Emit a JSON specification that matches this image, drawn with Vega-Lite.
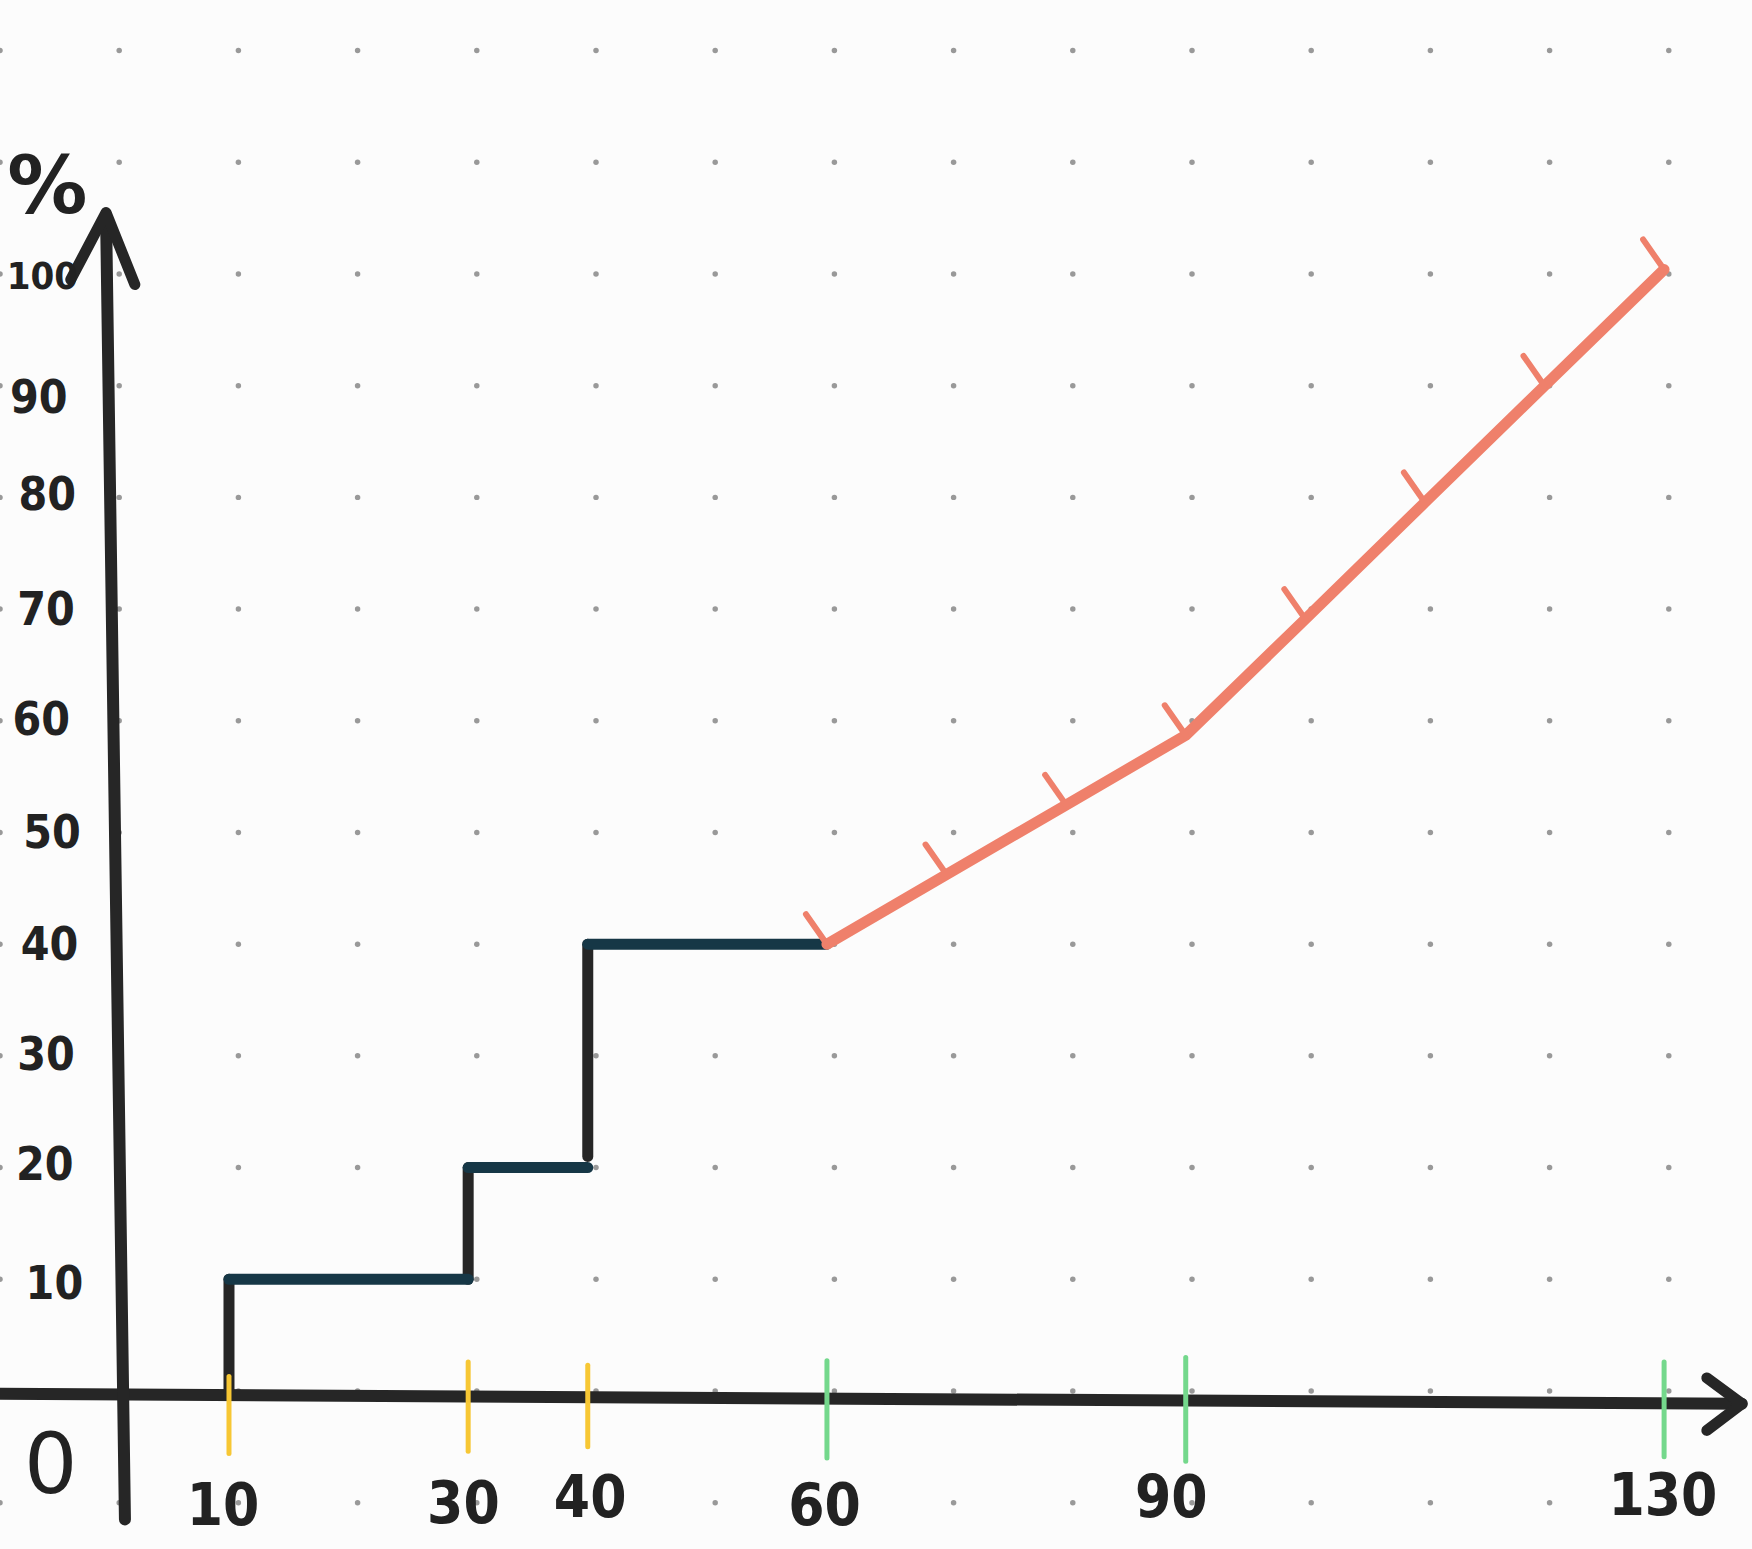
{
  "$schema": "https://vega.github.io/schema/vega-lite/v6.json",
  "width": 1752,
  "height": 1549,
  "autosize": {"type": "none"},
  "padding": 0,
  "background": "#fcfcfc",
  "config": {"view": {"stroke": null}},
  "datasets": {
    "dots": [
      {"v": 120, "c": [0,1,2,3,4,5,6,7,8,9,10,11,12,13,14]},
      {"v": 110, "c": [0,1,2,3,4,5,6,7,8,9,10,11,12,13,14]},
      {"v": 100, "c": [0,1,2,3,4,5,6,7,8,9,10,11,12,13,14]},
      {"v": 90, "c": [0,1,2,3,4,5,6,7,8,9,10,11,12,13,14]},
      {"v": 80, "c": [0,1,2,3,4,5,6,7,8,9,10,11,12,13,14]},
      {"v": 70, "c": [0,1,2,3,4,5,6,7,8,9,10,11,12,13,14]},
      {"v": 60, "c": [0,1,2,3,4,5,6,7,8,9,10,11,12,13,14]},
      {"v": 50, "c": [0,1,2,3,4,5,6,7,8,9,10,11,12,13,14]},
      {"v": 40, "c": [0,1,2,3,4,5,6,7,8,9,10,11,12,13,14]},
      {"v": 30, "c": [0,1,2,3,4,5,6,7,8,9,10,11,12,13,14]},
      {"v": 20, "c": [0,1,2,3,4,5,6,7,8,9,10,11,12,13,14]},
      {"v": 10, "c": [0,1,2,3,4,5,6,7,8,9,10,11,12,13,14]},
      {"v": 0, "c": [0,1,2,3,4,5,6,7,8,9,10,11,12,13,14]},
      {"v": -10, "c": [0,1,2,3,4,5,6,7,8,9,10,11,12,13,14]}
    ],
    "axes": [
      {"x": -9.6, "y": -0.25, "x2": 136.5, "y2": -1.15},
      {"x": 1.3, "y": -11.5, "x2": -0.28, "y2": 105.3}
    ],
    "xarrow": [{"x": 136.5, "y": -1.15}],
    "yarrow": [{"x": -0.28, "y": 105.5}],
    "step": [
      {"x": 10, "y": 0, "x2": 10, "y2": 10, "d": "v"},
      {"x": 30, "y": 10, "x2": 30, "y2": 20, "d": "v"},
      {"x": 40, "y": 21, "x2": 40, "y2": 40, "d": "v"},
      {"x": 10, "y": 10, "x2": 30, "y2": 10, "d": "h"},
      {"x": 30, "y": 20, "x2": 40, "y2": 20, "d": "h"},
      {"x": 40, "y": 40, "x2": 60, "y2": 40, "d": "h"}
    ],
    "linear": [
      {"x": 60, "y": 40},
      {"x": 70, "y": 46.23},
      {"x": 80, "y": 52.47},
      {"x": 90, "y": 58.7},
      {"x": 100, "y": 69.1},
      {"x": 110, "y": 79.55},
      {"x": 120, "y": 89.98},
      {"x": 130, "y": 100.4}
    ],
    "ticks": [
      {"x": 10, "y": 1.3, "y2": -5.6, "g": "step"},
      {"x": 30, "y": 2.6, "y2": -5.4, "g": "step"},
      {"x": 40, "y": 2.3, "y2": -5.0, "g": "step"},
      {"x": 60, "y": 2.7, "y2": -6.0, "g": "linear"},
      {"x": 90, "y": 3.0, "y2": -6.3, "g": "linear"},
      {"x": 130, "y": 2.6, "y2": -5.9, "g": "linear"}
    ],
    "xlabels": [
      {"x": 9.5, "y": -10.5, "t": "10"},
      {"x": 29.6, "y": -10.3, "t": "30"},
      {"x": 40.2, "y": -9.8, "t": "40"},
      {"x": 59.8, "y": -10.5, "t": "60"},
      {"x": 88.8, "y": -9.8, "t": "90"},
      {"x": 129.9, "y": -9.6, "t": "130"}
    ],
    "ylabels": [
      {"x": -4.6, "y": 9.5, "t": "10"},
      {"x": -5.4, "y": 20.1, "t": "20"},
      {"x": -5.3, "y": 30, "t": "30"},
      {"x": -5.0, "y": 39.8, "t": "40"},
      {"x": -4.8, "y": 49.9, "t": "50"},
      {"x": -5.7, "y": 60, "t": "60"},
      {"x": -5.3, "y": 69.8, "t": "70"},
      {"x": -5.2, "y": 80.1, "t": "80"},
      {"x": -5.9, "y": 88.8, "t": "90"}
    ],
    "toplabel": [
      {"x": -5.6, "y": 99.6, "t": "100"}
    ],
    "unit": [{"x": -5.2, "y": 107.6, "t": "%"}],
    "origin": [{"x": -4.9, "y": -6.9, "t": "0"}]
  },
  "resolve": {"scale": {"x": "independent"}},
  "layer": [
    {
      "data": {"name": "dots"},
      "transform": [{"flatten": ["c"]}],
      "mark": {"type": "circle", "size": 30, "color": "#999999", "opacity": 1},
      "encoding": {
        "x": {"field": "c", "type": "quantitative", "scale": {"domain": [0, 14.698], "nice": false, "zero": false}, "axis": null},
        "y": {"field": "v", "type": "quantitative", "scale": {"domain": [-14.15, 124.53], "nice": false, "zero": false}, "axis": null}
      }
    },
    {
      "resolve": {"scale": {"color": "independent"}},
      "layer": [
        {
          "data": {"name": "axes"},
          "mark": {"type": "rule", "color": "#262626", "strokeWidth": 12, "strokeCap": "round"},
          "encoding": {
            "x": {"field": "x", "type": "quantitative", "scale": {"domain": [-9.147, 137.35], "nice": false, "zero": false}, "axis": null},
            "y": {"field": "y", "type": "quantitative", "scale": {"domain": [-14.15, 124.53], "nice": false, "zero": false}, "axis": null},
            "x2": {"field": "x2"},
            "y2": {"field": "y2"}
          }
        },
        {
          "data": {"name": "xarrow"},
          "mark": {"type": "point", "shape": "M-1,-0.74L0,0L-1,0.76", "size": 4900, "filled": false, "color": "#262626", "opacity": 1, "strokeWidth": 11, "strokeCap": "round", "strokeJoin": "round"},
          "encoding": {
            "x": {"field": "x", "type": "quantitative", "scale": {"domain": [-9.147, 137.35], "nice": false, "zero": false}, "axis": null},
            "y": {"field": "y", "type": "quantitative", "scale": {"domain": [-14.15, 124.53], "nice": false, "zero": false}, "axis": null}
          }
        },
        {
          "data": {"name": "yarrow"},
          "mark": {"type": "point", "shape": "M-0.49,0.93L0,0L0.4,1", "size": 20736, "filled": false, "color": "#262626", "opacity": 1, "strokeWidth": 11, "strokeCap": "round", "strokeJoin": "round"},
          "encoding": {
            "x": {"field": "x", "type": "quantitative", "scale": {"domain": [-9.147, 137.35], "nice": false, "zero": false}, "axis": null},
            "y": {"field": "y", "type": "quantitative", "scale": {"domain": [-14.15, 124.53], "nice": false, "zero": false}, "axis": null}
          }
        },
        {
          "data": {"name": "step"},
          "mark": {"type": "rule", "strokeWidth": 11, "strokeCap": "round"},
          "encoding": {
            "x": {"field": "x", "type": "quantitative", "scale": {"domain": [-9.147, 137.35], "nice": false, "zero": false}, "axis": null},
            "y": {"field": "y", "type": "quantitative", "scale": {"domain": [-14.15, 124.53], "nice": false, "zero": false}, "axis": null},
            "x2": {"field": "x2"},
            "y2": {"field": "y2"},
            "color": {"field": "d", "type": "nominal", "scale": {"domain": ["v", "h"], "range": ["#262626", "#163746"]}, "legend": null}
          }
        },
        {
          "data": {"name": "linear"},
          "mark": {"type": "line", "color": "#ef806b", "strokeWidth": 11, "strokeCap": "round", "strokeJoin": "round"},
          "encoding": {
            "x": {"field": "x", "type": "quantitative", "scale": {"domain": [-9.147, 137.35], "nice": false, "zero": false}, "axis": null},
            "y": {"field": "y", "type": "quantitative", "scale": {"domain": [-14.15, 124.53], "nice": false, "zero": false}, "axis": null}
          }
        },
        {
          "data": {"name": "linear"},
          "mark": {"type": "point", "shape": "M0,0L-0.7,-1", "size": 3600, "filled": false, "color": "#ef806b", "opacity": 1, "strokeWidth": 6, "strokeCap": "round"},
          "encoding": {
            "x": {"field": "x", "type": "quantitative", "scale": {"domain": [-9.147, 137.35], "nice": false, "zero": false}, "axis": null},
            "y": {"field": "y", "type": "quantitative", "scale": {"domain": [-14.15, 124.53], "nice": false, "zero": false}, "axis": null}
          }
        },
        {
          "data": {"name": "ticks"},
          "mark": {"type": "rule", "strokeWidth": 5, "strokeCap": "round"},
          "encoding": {
            "x": {"field": "x", "type": "quantitative", "scale": {"domain": [-9.147, 137.35], "nice": false, "zero": false}, "axis": null},
            "y": {"field": "y", "type": "quantitative", "scale": {"domain": [-14.15, 124.53], "nice": false, "zero": false}, "axis": null},
            "y2": {"field": "y2"},
            "color": {"field": "g", "type": "nominal", "scale": {"domain": ["step", "linear"], "range": ["#f7c734", "#74d88c"]}, "legend": null}
          }
        },
        {
          "data": {"name": "xlabels"},
          "mark": {"type": "text", "font": "DejaVu Sans Condensed, DejaVu Sans, sans-serif", "fontSize": 58, "fontWeight": "bold", "color": "#222222", "align": "center", "baseline": "middle"},
          "encoding": {
            "x": {"field": "x", "type": "quantitative", "scale": {"domain": [-9.147, 137.35], "nice": false, "zero": false}, "axis": null},
            "y": {"field": "y", "type": "quantitative", "scale": {"domain": [-14.15, 124.53], "nice": false, "zero": false}, "axis": null},
            "text": {"field": "t"}
          }
        },
        {
          "data": {"name": "ylabels"},
          "mark": {"type": "text", "font": "DejaVu Sans Condensed, DejaVu Sans, sans-serif", "fontSize": 46, "fontWeight": "bold", "color": "#222222", "align": "center", "baseline": "middle"},
          "encoding": {
            "x": {"field": "x", "type": "quantitative", "scale": {"domain": [-9.147, 137.35], "nice": false, "zero": false}, "axis": null},
            "y": {"field": "y", "type": "quantitative", "scale": {"domain": [-14.15, 124.53], "nice": false, "zero": false}, "axis": null},
            "text": {"field": "t"}
          }
        },
        {
          "data": {"name": "toplabel"},
          "mark": {"type": "text", "font": "DejaVu Sans Condensed, DejaVu Sans, sans-serif", "fontSize": 38, "fontWeight": "bold", "color": "#222222", "align": "center", "baseline": "middle"},
          "encoding": {
            "x": {"field": "x", "type": "quantitative", "scale": {"domain": [-9.147, 137.35], "nice": false, "zero": false}, "axis": null},
            "y": {"field": "y", "type": "quantitative", "scale": {"domain": [-14.15, 124.53], "nice": false, "zero": false}, "axis": null},
            "text": {"field": "t"}
          }
        },
        {
          "data": {"name": "unit"},
          "mark": {"type": "text", "font": "DejaVu Sans", "fontSize": 80, "fontWeight": "bold", "color": "#222222", "align": "center", "baseline": "middle"},
          "encoding": {
            "x": {"field": "x", "type": "quantitative", "scale": {"domain": [-9.147, 137.35], "nice": false, "zero": false}, "axis": null},
            "y": {"field": "y", "type": "quantitative", "scale": {"domain": [-14.15, 124.53], "nice": false, "zero": false}, "axis": null},
            "text": {"field": "t"}
          }
        },
        {
          "data": {"name": "origin"},
          "mark": {"type": "text", "font": "DejaVu Sans", "fontSize": 84, "color": "#222222", "align": "center", "baseline": "middle"},
          "encoding": {
            "x": {"field": "x", "type": "quantitative", "scale": {"domain": [-9.147, 137.35], "nice": false, "zero": false}, "axis": null},
            "y": {"field": "y", "type": "quantitative", "scale": {"domain": [-14.15, 124.53], "nice": false, "zero": false}, "axis": null},
            "text": {"field": "t"}
          }
        }
      ]
    }
  ]
}
